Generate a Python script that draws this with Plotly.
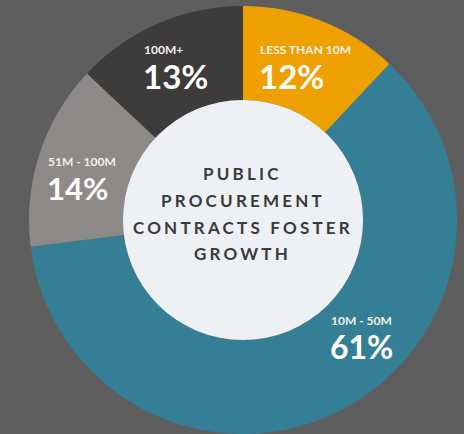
import plotly.graph_objects as go

# Contract size bands and their share of public procurement contracts (%)
bands = ["LESS THAN 10M", "10M - 50M", "51M - 100M", "100M+"]
shares = [12, 61, 14, 13]
colors = ["#EDA000", "#347F96", "#8E8A88", "#3E3C3B"]
center_lines = ["PUBLIC", "PROCUREMENT", "CONTRACTS FOSTER", "GROWTH"]

W, H = 464, 434
BG = "#5E5E5E"
HOLE_BG = "#EDF0F4"

# Pie placement in pixels (left, right, top, bottom)
px_left, px_right, px_top, px_bottom = 28, 458, 6, 434
hole = 0.561

dom_x = [px_left / W, px_right / W]
dom_y = [1 - px_bottom / H, 1 - px_top / H]

fig = go.Figure()
fig.add_trace(go.Pie(
    labels=bands,
    values=shares,
    marker=dict(colors=colors, line=dict(width=0)),
    sort=False,
    direction="clockwise",
    rotation=0,
    hole=hole,
    textinfo="none",
    hoverinfo="label+percent",
    showlegend=False,
    domain=dict(x=dom_x, y=dom_y),
))

# Light disc filling the hole
cx = (px_left + px_right) / 2
r_out = min(px_right - px_left, px_bottom - px_top) / 2
cy = px_top + (px_bottom - px_top) / 2
r_in = r_out * hole
fig.add_shape(
    type="circle", xref="paper", yref="paper",
    x0=(cx - r_in) / W, x1=(cx + r_in) / W,
    y0=1 - (cy + r_in) / H, y1=1 - (cy - r_in) / H,
    fillcolor=HOLE_BG, line=dict(width=0), layer="above",
)

FONT = "Lato"
SMALL = 12
# offset from baseline to the middle of a Lato text box, in em
MID = 0.387

# Slice labels: left edge, the two text baselines (band name, percentage)
# and the size of the percentage
label_pos = {
    "LESS THAN 10M": (259, 54.3, 89, 33),
    "100M+": (143, 54.3, 89, 33),
    "51M - 100M": (47, 166.5, 199.5, 31),
    "10M - 50M": (330, 325, 359.3, 32),
}
for band, share in zip(bands, shares):
    x, base_small, base_big, big = label_pos[band]
    fig.add_annotation(
        x=x / W, y=1 - (base_small - MID * SMALL) / H,
        xref="paper", yref="paper",
        xanchor="left", yanchor="middle", showarrow=False, borderpad=0,
        text=f"<b>{band}</b>",
        font=dict(family=FONT, size=SMALL, color="#F0F0F0"),
    )
    fig.add_annotation(
        x=(x - 1) / W, y=1 - (base_big - MID * big) / H,
        xref="paper", yref="paper",
        xanchor="left", yanchor="middle", showarrow=False, borderpad=0,
        text=f"<b>{share}%</b>",
        font=dict(family=FONT, size=big, color="#FFFFFF"),
    )

# Title in the centre of the donut, one annotation per line
line_y = [173, 200, 227, 253]
for line, y in zip(center_lines, line_y):
    fig.add_annotation(
        x=cx / W, y=1 - y / H, xref="paper", yref="paper",
        xanchor="center", yanchor="middle", showarrow=False,
        text=f'<span style="letter-spacing:3.2px">{line}</span>',
        font=dict(family=FONT, size=17, color="#3A3A3A", weight=700),
    )

fig.update_layout(
    width=W, height=H,
    margin=dict(l=0, r=0, t=0, b=0),
    paper_bgcolor=BG,
    plot_bgcolor=BG,
)

fig.write_html("out.html")
